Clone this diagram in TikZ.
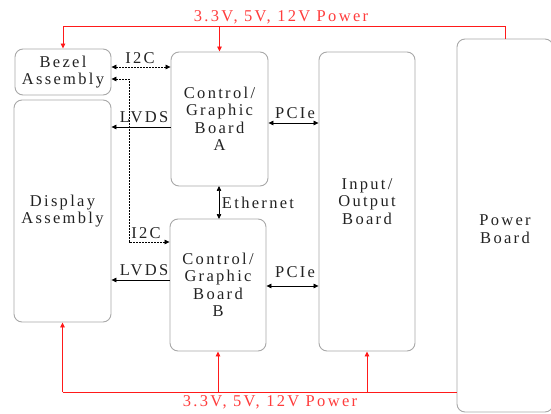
\documentclass[tikz,border=0pt]{standalone}
\usepackage{fontspec}
\setmainfont{Liberation Serif}[LetterSpace=14]
\usetikzlibrary{arrows.meta}
\definecolor{boxgray}{HTML}{A8A8A8}
\definecolor{txt}{HTML}{222222}
\definecolor{pwrred}{HTML}{FF1A1A}
\definecolor{pwrtxt}{HTML}{FF3C3C}
\begin{document}
\begin{tikzpicture}[x=1pt,y=-1pt,
  blk/.style={draw=boxgray,line width=0.9pt,rounded corners=8pt,inner sep=0pt,
    align=center,text=txt,font=\fontsize{16.5}{17.5}\selectfont},
  lbl/.style={text=txt,font=\fontsize{16.5}{17}\selectfont,inner sep=0pt},
  plbl/.style={text=pwrtxt,font=\fontsize{16.5}{17}\selectfont,inner sep=0pt},
  sig/.style={draw=black,line width=0.7pt},
  dsh/.style={draw=black,line width=0.7pt,dash pattern=on 2pt off 1pt},
  pwr/.style={draw=pwrred,line width=0.9pt},
  >={Triangle[length=5pt,width=4.5pt]}]
\useasboundingbox (0,0) rectangle (551,414);
\node[blk,minimum width=96pt,minimum height=46pt] (bez) at (63,72) {Bezel\\Assembly};
\node[blk,minimum width=97pt,minimum height=222pt] (disp) at (62.5,211) {Display\\Assembly};
\node[blk,minimum width=97pt,minimum height=134pt] (ca) at (219.5,119) {Control/\\Graphic\\Board\\A};
\node[blk,minimum width=96pt,minimum height=132pt] (cb) at (218,285) {Control/\\Graphic\\Board\\B};
\node[blk,minimum width=96pt,minimum height=299pt] (io) at (367,201.5) {Input/\\Output\\Board};
\node[blk,minimum width=96pt,minimum height=373pt] (pw) at (505,225.5) {};
\node[lbl,align=center,font=\fontsize{16.5}{17.5}\selectfont] (pwt) at (505,229) {Power\\Board};
% top power bus
\draw[pwr] (pw.north) -- ++(0,-12) coordinate (tr) -- (tr -| bez.north) coordinate (tl);
\draw[pwr,->] (tl) -- (bez.north);
\draw[pwr,->] (tl -| ca.north) -- (ca.north);
\node[plbl] (ptop) at (281,17) {3.3V, 5V, 12V Power};
% bottom power bus
\coordinate (bl) at (disp.south |- 0,392);
\draw[pwr] (bl) -- (bl -| pw.west);
\draw[pwr,->] (bl) -- (disp.south);
\draw[pwr,->] (bl -| cb.south) -- (cb.south);
\draw[pwr,->] (bl -| io.south) -- (io.south);
\node[plbl] (pbot) at (270,402) {3.3V, 5V, 12V Power};
% I2C
\draw[dsh,<->] (bez.east |- 0,67) -- (ca.west |- 0,67);
\node[lbl] (i2ca) at (140,58) {I2C};
\draw[dsh,<->] (bez.east |- 0,79) -| (129,242) -- (cb.west |- 0,242);
\node[lbl] (i2cb) at (146,233) {I2C};
% LVDS
\draw[sig,->] (ca.west |- 0,127) -- (disp.east |- 0,127);
\node[lbl] (lvdsa) at (144,117) {LVDS};
\draw[sig,->] (cb.west |- 0,280) -- (disp.east |- 0,280);
\node[lbl] (lvdsb) at (144,270) {LVDS};
% PCIe
\draw[sig,<->] (ca.east |- 0,123) -- (io.west |- 0,123);
\node[lbl] (pcia) at (295,113) {PCIe};
\draw[sig,<->] (cb.east |- 0,286) -- (io.west |- 0,286);
\node[lbl] (pcib) at (295,272) {PCIe};
% Ethernet
\draw[sig,<->] (219,186) -- (219,219);
\node[lbl] (eth) at (258,203) {Ethernet};
\end{tikzpicture}
\end{document}
